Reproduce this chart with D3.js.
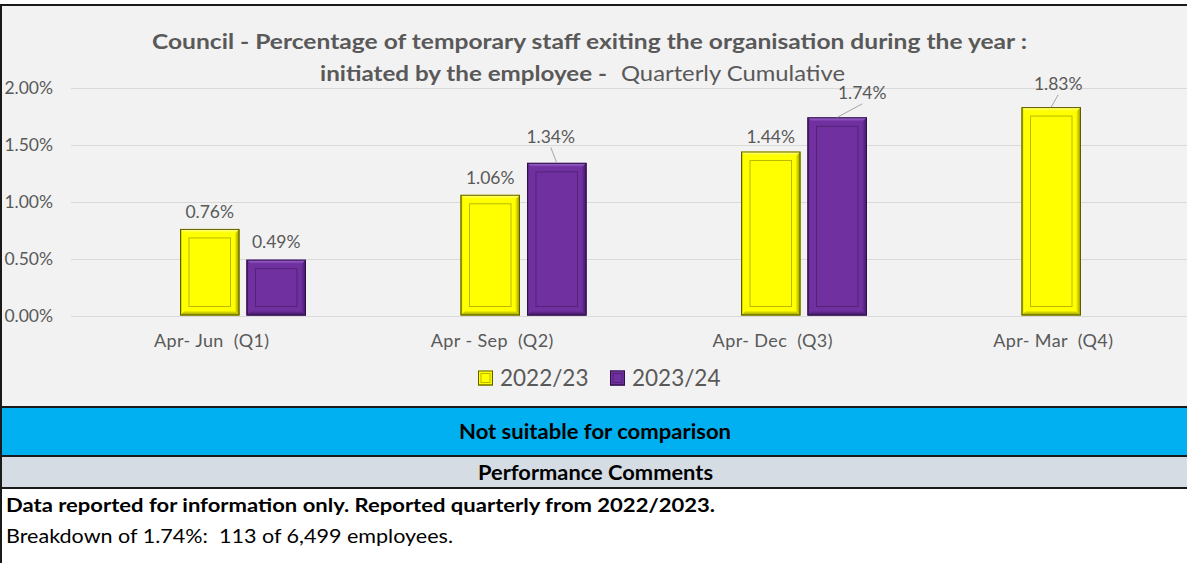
<!DOCTYPE html>
<html>
<head>
<meta charset="utf-8">
<script src="https://cdn.jsdelivr.net/npm/d3@7"></script>
<style>
  body { margin: 0; background: #fff; }
  svg { display: block; }
  text { white-space: pre; }
</style>
</head>
<body>
<div id="chart"></div>
<script>
const categories = ["Apr- Jun  (Q1)", "Apr - Sep  (Q2)", "Apr- Dec  (Q3)", "Apr- Mar  (Q4)"];
const seriesNames = ["2022/23", "2023/24"];
const values2223 = [0.0076, 0.0106, 0.0144, 0.0183];
const values2324 = [0.0049, 0.0134, 0.0174, null];
const yTicks = [0, 0.005, 0.01, 0.015, 0.02];

const titleLine1 = "Council - Percentage of temporary staff exiting the organisation during the year :";
const titleLine2Bold = "initiated by the employee -";
const titleLine2 = "Quarterly Cumulative";
const ratingText = "Not suitable for comparison";
const commentsHeader = "Performance Comments";
const comment1 = "Data reported for information only. Reported quarterly from 2022/2023.";
const comment2 = "Breakdown of 1.74%:  113 of 6,499 employees.";

// label nudges for the ones excel moved (gets a leader line)
const labelNudge = {
  "2023/24|Apr - Sep  (Q2)": { dx: -6, dy: -9, leader: true },
  "2022/23|Apr- Dec  (Q3)": { dx: 0, dy: 3 },
  "2023/24|Apr- Dec  (Q3)": { dx: 25, dy: -7, leader: true },
  "2022/23|Apr- Mar  (Q4)": { dx: 7, dy: -6, leader: true },
};

const W = 1187, H = 563;
const font = "Lato, 'Open Sans', sans-serif";
const grey = "#595959";

const palettes = {
  "2022/23": { face: "#FFFF00", light: "#FFFF99", dark: "#8C8C00", line: "#8A8A00", edge: "#5E5E00" },
  "2023/24": { face: "#7030A0", light: "#A872D8", dark: "#3E1760", line: "#3F1A5E", edge: "#2E1046" },
};

const svg = d3.select("#chart").append("svg")
  .attr("width", W).attr("height", H)
  .style("font-family", font);

const defs = svg.append("defs");
Object.entries(palettes).forEach(([name, p], i) => {
  const mk = (id, x2, y2, stops) => {
    const lg = defs.append("linearGradient").attr("id", id)
      .attr("x1", 0).attr("y1", 0).attr("x2", x2).attr("y2", y2);
    stops.forEach(([o, c]) => lg.append("stop").attr("offset", o).attr("stop-color", c));
  };
  mk(`top${i}`, 0, 1, [[0, p.light], [0.45, p.face], [1, p.face]]);
  mk(`left${i}`, 1, 0, [[0, p.dark], [0.25, p.face], [1, p.face]]);
  mk(`right${i}`, 1, 0, [[0, p.face], [0.45, p.face], [1, p.dark]]);
  mk(`bottom${i}`, 0, 1, [[0, p.face], [0.45, p.face], [1, p.dark]]);
  p.idx = i;
});

// background panels
svg.append("rect").attr("x", 0).attr("y", 5).attr("width", W).attr("height", 402).attr("fill", "#F2F2F2");
svg.append("rect").attr("x", 0).attr("y", 407).attr("width", W).attr("height", 49).attr("fill", "#00B0F0");
svg.append("rect").attr("x", 0).attr("y", 456).attr("width", W).attr("height", 32).attr("fill", "#D6DCE4");

const y = d3.scaleLinear().domain([0, 0.02]).range([315.5, 87.7]);
const x0 = d3.scaleBand().domain(categories).range([69.5, 1191.5]);
// excel keeps an empty first series slot, so the yellow bar sits on the category centre
const x1 = d3.scaleBand().domain(["", ...seriesNames]).range([-96.25, 96.25]).paddingInner(7 / 66.5);

// gridlines
svg.append("g").selectAll("line").data(yTicks).join("line")
  .attr("x1", 71).attr("x2", W)
  .attr("y1", d => Math.round(y(d)) + 0.5).attr("y2", d => Math.round(y(d)) + 0.5)
  .attr("stroke", "#D9D9D9").attr("stroke-width", 1);

// y axis labels
svg.append("g").selectAll("text").data(yTicks).join("text")
  .attr("x", 53).attr("y", d => y(d)).attr("dy", "0.36em")
  .attr("text-anchor", "end").attr("fill", grey).style("font-size", "17.5px")
  .text(d3.format(".2%"));

// title
svg.append("text").attr("x", 152).attr("y", 48.5)
  .attr("textLength", 875).attr("lengthAdjust", "spacingAndGlyphs")
  .attr("fill", grey).style("font-size", "21.5px").style("font-weight", "bold")
  .text(titleLine1);
svg.append("text").attr("x", 320).attr("y", 80.5)
  .attr("textLength", 287).attr("lengthAdjust", "spacingAndGlyphs")
  .attr("fill", grey).style("font-size", "21.5px").style("font-weight", "bold")
  .text(titleLine2Bold);
svg.append("text").attr("x", 621).attr("y", 80.5)
  .attr("textLength", 224).attr("lengthAdjust", "spacingAndGlyphs")
  .attr("fill", grey).style("font-size", "21.5px")
  .text(titleLine2);

function bevel(g, bx, by, bw, bh, p, b) {
  b = Math.min(b, bw / 2, bh / 2);
  const poly = (pts, fill) => g.append("polygon")
    .attr("points", pts.map(q => q.join(",")).join(" ")).attr("fill", fill);
  g.append("rect").attr("x", bx).attr("y", by).attr("width", bw).attr("height", bh).attr("fill", p.face);
  poly([[bx, by], [bx + bw, by], [bx + bw - b, by + b], [bx + b, by + b]], `url(#top${p.idx})`);
  poly([[bx, by], [bx + b, by + b], [bx + b, by + bh - b], [bx, by + bh]], `url(#left${p.idx})`);
  poly([[bx + bw, by], [bx + bw, by + bh], [bx + bw - b, by + bh - b], [bx + bw - b, by + b]], `url(#right${p.idx})`);
  poly([[bx, by + bh], [bx + b, by + bh - b], [bx + bw - b, by + bh - b], [bx + bw, by + bh]], `url(#bottom${p.idx})`);
  g.append("rect").attr("x", bx + b).attr("y", by + b).attr("width", bw - 2 * b).attr("height", bh - 2 * b)
    .attr("fill", "none").attr("stroke", p.line).attr("stroke-width", 1).attr("stroke-opacity", 0.6);
  g.append("rect").attr("x", bx + 0.5).attr("y", by + 0.5).attr("width", bw - 1).attr("height", bh - 1)
    .attr("fill", "none").attr("stroke", p.edge).attr("stroke-width", 1);
}

const bars = [];
categories.forEach((c, i) => {
  [values2223[i], values2324[i]].forEach((v, s) => {
    if (v == null) return;
    bars.push({ cat: c, series: seriesNames[s], value: v });
  });
});

const barG = svg.append("g");
const labelG = svg.append("g");
bars.forEach(d => {
  const bx = x0(d.cat) + x0.bandwidth() / 2 + x1(d.series);
  const bw = x1.bandwidth();
  const top = y(d.value);
  bevel(barG, bx, top, bw, y(0) - top, palettes[d.series], 9);

  const n = labelNudge[d.series + "|" + d.cat] || { dx: 0, dy: 0 };
  const lx = bx + bw / 2 + n.dx;
  const ly = top - 17.5 + n.dy;
  if (n.leader) {
    labelG.append("line")
      .attr("x1", lx).attr("y1", ly + 11)
      .attr("x2", bx + bw / 2).attr("y2", top)
      .attr("stroke", "#A6A6A6").attr("stroke-width", 1);
  }
  labelG.append("text").attr("x", lx).attr("y", ly).attr("dy", "0.36em")
    .attr("text-anchor", "middle").attr("fill", grey).style("font-size", "17.5px")
    .text(d3.format(".2%")(d.value));
});

// x axis labels
svg.append("g").selectAll("text").data(categories).join("text")
  .attr("x", d => x0(d) + x0.bandwidth() / 2 + 2).attr("y", 341).attr("dy", "0.36em")
  .attr("text-anchor", "middle").attr("fill", grey)
  .style("font-size", "18px").style("letter-spacing", "0.4px")
  .text(d => d);

// legend
const legendX = [478, 610];
seriesNames.forEach((s, i) => {
  const lg = svg.append("g");
  bevel(lg, legendX[i], 370.5, 15, 15, palettes[s], 3);
  lg.append("text").attr("x", legendX[i] + 22).attr("y", 378).attr("dy", "0.36em")
    .attr("fill", grey).style("font-size", "22.5px").text(s);
});

// borders
const hLine = yy => svg.append("line").attr("x1", 0).attr("x2", W).attr("y1", yy).attr("y2", yy)
  .attr("stroke", "#1A1A1A").attr("stroke-width", 2);
[5, 407, 456, 488].forEach(hLine);
svg.append("line").attr("x1", 1).attr("x2", 1).attr("y1", 4).attr("y2", H)
  .attr("stroke", "#1A1A1A").attr("stroke-width", 2);

// table text
svg.append("text").attr("x", 459).attr("y", 439)
  .attr("textLength", 272).attr("lengthAdjust", "spacingAndGlyphs")
  .attr("fill", "#000").style("font-size", "20px").style("font-weight", "bold")
  .text(ratingText);
svg.append("text").attr("x", 478).attr("y", 480)
  .attr("textLength", 235).attr("lengthAdjust", "spacingAndGlyphs")
  .attr("fill", "#000").style("font-size", "20px").style("font-weight", "bold")
  .text(commentsHeader);
svg.append("text").attr("x", 6).attr("y", 511.5)
  .attr("textLength", 709).attr("lengthAdjust", "spacingAndGlyphs")
  .attr("fill", "#000").style("font-size", "19.5px").style("font-weight", "bold")
  .text(comment1);
svg.append("text").attr("x", 6).attr("y", 543)
  .attr("textLength", 447).attr("lengthAdjust", "spacingAndGlyphs")
  .attr("fill", "#000").style("font-size", "19.5px")
  .text(comment2);
</script>
</body>
</html>
